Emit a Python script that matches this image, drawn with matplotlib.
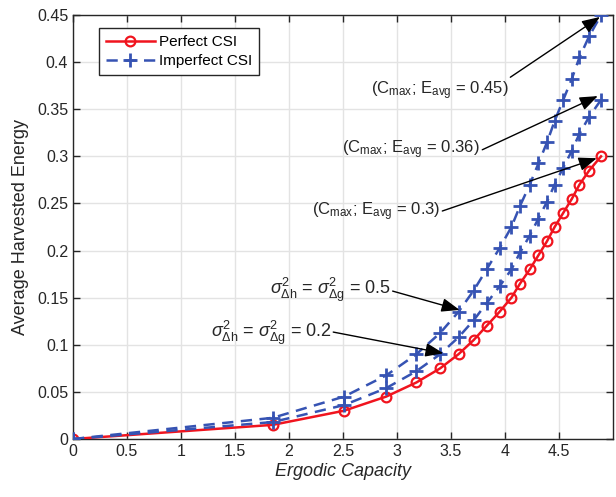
import numpy as np
import matplotlib.pyplot as plt

plt.rcParams['font.family'] = ['Liberation Sans', 'DejaVu Sans']
plt.rcParams['mathtext.fontset'] = 'custom'
plt.rcParams['mathtext.rm'] = 'Liberation Sans'
plt.rcParams['mathtext.it'] = 'Liberation Sans:italic'

# ergodic capacity (shared x for all curves)
capacity = [0, 1.85, 2.51, 2.90, 3.18, 3.40, 3.57, 3.71, 3.83, 3.95, 4.06,
            4.14, 4.23, 4.31, 4.39, 4.46, 4.54, 4.62, 4.69, 4.78, 4.89]
# average harvested energy
e_perfect = [0, 0.015, 0.03, 0.045, 0.06, 0.075, 0.09, 0.105, 0.12, 0.135, 0.15,
             0.165, 0.18, 0.195, 0.21, 0.225, 0.24, 0.255, 0.27, 0.285, 0.30]
e_imp_02 = [0, 0.018, 0.036, 0.054, 0.072, 0.09, 0.108, 0.126, 0.144, 0.162, 0.18,
            0.198, 0.216, 0.234, 0.252, 0.27, 0.288, 0.306, 0.324, 0.342, 0.36]
e_imp_05 = [0, 0.0225, 0.045, 0.0675, 0.09, 0.1125, 0.135, 0.1575, 0.18, 0.2025, 0.225,
            0.2475, 0.27, 0.2925, 0.315, 0.3375, 0.36, 0.3825, 0.405, 0.4275, 0.45]

red = '#f0141e'
blue = '#3653b3'
dark = '#262626'

fig = plt.figure(figsize=(6.16, 4.97), dpi=100)
ax = fig.add_axes([0.1185, 0.1167, 0.8765, 0.853])

ax.plot(capacity, e_perfect, color=red, lw=1.8, marker='o', ms=7, mfc='none',
        mew=1.6, label='Perfect CSI', zorder=3)
ax.plot(capacity, e_imp_02, color=blue, lw=1.8, ls=(0, (4.5, 3)), marker='+', ms=10,
        mew=2, label='Imperfect CSI', zorder=3)
ax.plot(capacity, e_imp_05, color=blue, lw=1.8, ls=(0, (4.5, 3)), marker='+', ms=10,
        mew=2, zorder=3)

ax.set_xlim(0, 5)
ax.set_ylim(0, 0.45)
ax.set_xticks(np.arange(0, 5.0, 0.5))
ax.set_xticklabels(['0', '0.5', '1', '1.5', '2', '2.5', '3', '3.5', '4', '4.5'])
ax.set_yticks(np.arange(0, 0.451, 0.05))
ax.set_yticklabels(['0', '0.05', '0.1', '0.15', '0.2', '0.25', '0.3', '0.35', '0.4', '0.45'])
ax.grid(True, color='#e3e3e3', lw=1)
ax.set_axisbelow(True)
ax.tick_params(direction='in', top=True, right=True, length=5, width=1,
               colors=dark, labelsize=11.5)
for s in ax.spines.values():
    s.set_color(dark)
    s.set_linewidth(1)

ax.set_xlabel('Ergodic Capacity', fontsize=13, style='italic', color=dark, labelpad=3)
ax.set_ylabel('Average Harvested Energy', fontsize=13, color=dark, labelpad=6)

leg = ax.legend(loc='upper left', bbox_to_anchor=(0.048, 0.969), borderaxespad=0,
                fontsize=11, fancybox=False, edgecolor=dark, framealpha=1,
                handlelength=3.2, borderpad=0.45, labelspacing=0.35, handletextpad=0.3)
leg.get_frame().set_linewidth(1)

arrow = dict(arrowstyle='-|>,head_length=1.1,head_width=0.42', color='k', lw=1,
             shrinkA=0, shrinkB=0)

# text labels: (label, text right x, text center y, tail x, tail y, head x, head y, size)
labels = [
    (r'(C$_{\rm max}$; E$_{\rm avg}$ = 0.45)', 4.03, 0.370, 4.05, 0.384, 4.88, 0.448, 12),
    (r'(C$_{\rm max}$; E$_{\rm avg}$ = 0.36)', 3.77, 0.307, 3.79, 0.307, 4.86, 0.364, 12),
    (r'(C$_{\rm max}$; E$_{\rm avg}$ = 0.3)', 3.40, 0.241, 3.42, 0.242, 4.85, 0.298, 12),
    (r'$\sigma^2_{\Delta \rm h}$ = $\sigma^2_{\Delta \rm g}$ = 0.5', 2.94, 0.158, 2.96, 0.157, 3.58, 0.137, 13),
    (r'$\sigma^2_{\Delta \rm h}$ = $\sigma^2_{\Delta \rm g}$ = 0.2', 2.40, 0.113, 2.41, 0.1135, 3.43, 0.091, 13),
]
for txt, tx, ty, ax0, ay0, hx, hy, fs in labels:
    ax.text(tx, ty, txt, fontsize=fs, color=dark, ha='right', va='center')
    ax.annotate('', xy=(hx, hy), xytext=(ax0, ay0), arrowprops=arrow)

plt.savefig('out.png', dpi=100)
